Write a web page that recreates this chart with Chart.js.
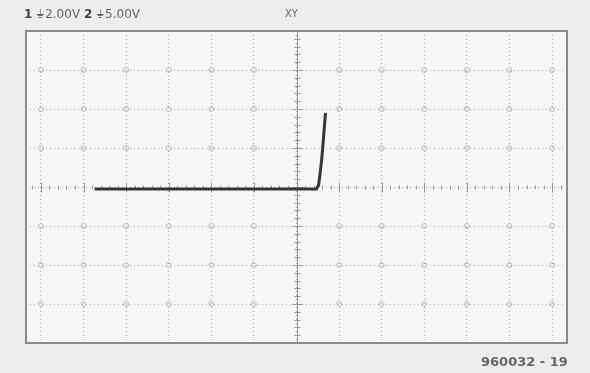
<!DOCTYPE html>
<html>
<head>
<meta charset="utf-8">
<script src="https://cdn.jsdelivr.net/npm/chart.js@4.4.1/dist/chart.umd.min.js"></script>
<style>
  html, body { margin: 0; padding: 0; background: #ededed; }
  #wrap { position: relative; width: 590px; height: 373px; overflow: hidden; }
  canvas { position: absolute; left: 0; top: 0; }
  .lbl { position: absolute; font-family: "DejaVu Sans", sans-serif; color: #666; white-space: nowrap; }
</style>
</head>
<body>
<div id="wrap">
  <canvas id="scope" width="590" height="373"></canvas>
  <div class="lbl" style="left:24px; top:7px; font-size:12px;"><b style="color:#444">1</b> ⏚2.00V <b style="color:#444">2</b> ⏚5.00V</div>
  <div class="lbl" style="left:285px; top:8px; font-size:10px;">XY</div>
  <div class="lbl" style="left:481px; top:354px; font-size:13px; font-weight:bold; color:#666;">960032 - 19</div>
</div>
<script>
// XY trace (divisions)
const traceX = [-4.74, -3.0, -1.5, 0.0, 0.47, 0.52, 0.55, 0.59, 0.63, 0.68];
const traceY = [-0.05, -0.05, -0.05, -0.05, -0.05, 0.05, 0.31, 0.69, 1.2, 1.9];

const xDivs = [-6, -5, -4, -3, -2, -1, 0, 1, 2, 3, 4, 5, 6];
const yDivs = [-3, -2, -1, 0, 1, 2, 3];

const points = traceX.map((x, i) => ({ x: x, y: traceY[i] }));

const screen = {
  id: 'screen',
  beforeDraw(chart) {
    const { ctx, chartArea: a } = chart;
    ctx.save();
    ctx.fillStyle = '#f6f6f6';
    ctx.fillRect(a.left, a.top, a.right - a.left, a.bottom - a.top);
    ctx.restore();
  },
  afterDraw(chart) {
    const { ctx, chartArea: a } = chart;
    ctx.save();
    ctx.strokeStyle = '#8a8a8a';
    ctx.lineWidth = 2;
    ctx.strokeRect(a.left, a.top, a.right - a.left, a.bottom - a.top);
    ctx.restore();
  }
};

// centre axes with minor ticks, small rings where grid lines cross
const axesTicks = {
  id: 'axesTicks',
  beforeDatasetsDraw(chart) {
    const { ctx, chartArea: a, scales: { x, y } } = chart;
    const cx = Math.round(x.getPixelForValue(0)) + 0.5;
    const cy = Math.round(y.getPixelForValue(0)) + 0.5;
    ctx.save();
    ctx.strokeStyle = '#bcbcbc';
    ctx.lineWidth = 1;
    xDivs.forEach(xv => {
      yDivs.forEach(yv => {
        if (xv === 0 || yv === 0) return;
        ctx.beginPath();
        ctx.arc(x.getPixelForValue(xv), y.getPixelForValue(yv), 2.5, 0, Math.PI * 2);
        ctx.stroke();
      });
    });
    ctx.strokeStyle = '#999';
    ctx.beginPath();
    ctx.moveTo(cx, a.top);
    ctx.lineTo(cx, a.bottom);
    ctx.stroke();
    for (let v = -4; v <= 4.001; v += 0.2) {
      const py = Math.round(y.getPixelForValue(v)) + 0.5;
      const major = Math.abs(v - Math.round(v)) < 0.01;
      const h = major ? 5 : 3;
      ctx.beginPath();
      ctx.moveTo(cx - h, py);
      ctx.lineTo(cx + h, py);
      ctx.stroke();
    }
    for (let v = -6.2; v <= 6.21; v += 0.2) {
      const px = Math.round(x.getPixelForValue(v)) + 0.5;
      const major = Math.abs(v - Math.round(v)) < 0.01;
      const h = major ? 5 : 2;
      ctx.beginPath();
      ctx.moveTo(px, cy - h);
      ctx.lineTo(px, cy + h);
      ctx.stroke();
    }
    ctx.restore();
  }
};

new Chart(document.getElementById('scope'), {
  type: 'scatter',
  data: {
    datasets: [{
      data: points,
      showLine: true,
      pointRadius: 0,
      borderColor: '#363636',
      borderWidth: 3,
      tension: 0
    }]
  },
  options: {
    responsive: false,
    animation: false,
    layout: { padding: { left: 26, top: 31, right: 23, bottom: 30 } },
    plugins: { legend: { display: false }, tooltip: { enabled: false } },
    scales: {
      x: {
        type: 'linear',
        min: -6.35,
        max: 6.35,
        afterBuildTicks: s => { s.ticks = xDivs.map(v => ({ value: v })); },
        ticks: { display: false },
        border: { display: false, dash: [1, 3] },
        grid: { color: '#a8a8a8', lineWidth: 1, drawTicks: false }
      },
      y: {
        type: 'linear',
        min: -4,
        max: 4,
        afterBuildTicks: s => { s.ticks = yDivs.map(v => ({ value: v })); },
        ticks: { display: false },
        border: { display: false, dash: [1, 3] },
        grid: { color: '#a8a8a8', lineWidth: 1, drawTicks: false }
      }
    }
  },
  plugins: [screen, axesTicks]
});
</script>
</body>
</html>
